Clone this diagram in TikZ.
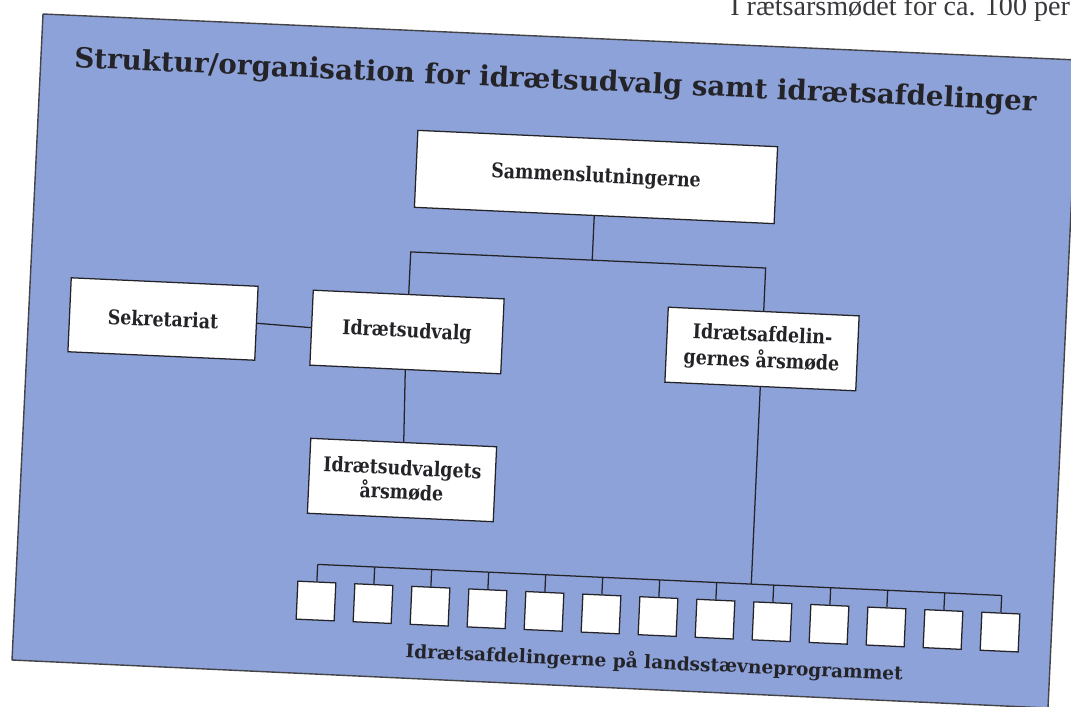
\documentclass[tikz,border=0pt]{standalone}
\usepackage{fontspec}
\setmainfont{DejaVu Serif}
\newfontfamily\boxfont{DejaVu Serif}[FakeStretch=0.86]
\newfontfamily\topfont{Liberation Serif}
\usetikzlibrary{calc}
\definecolor{panelblue}{RGB}{142,162,218}
\definecolor{ink}{RGB}{35,35,40}
\begin{document}
\begin{tikzpicture}[x=0.025cm,y=-0.025cm,
  box/.style={draw=ink, fill=white, line width=0.9pt, rotate=-2.6, align=center, text=ink,
    font=\boxfont\bfseries\fontsize{14.4}{16}\selectfont, inner sep=0pt},
  smallbox/.style={draw=ink, fill=white, line width=0.9pt, rotate=-2.6, minimum size=0.95cm, inner sep=0pt},
  conn/.style={draw=ink, line width=0.9pt}]
\useasboundingbox (0,0) rectangle (1071,706);
\clip (0,0) rectangle (1071,706);
\fill[white] (0,0) rectangle (1071,706);
% panel
\draw[fill=panelblue, draw=ink!85, line width=1pt, line join=round]
  (43,14) -- (1078,60) -- (1048,708) -- (12,660) -- cycle;
% top page text
\node[font=\topfont\fontsize{20}{22}\selectfont, text=ink!90, anchor=base west, inner sep=0pt] (note) at (730,15) {I rætsarsmødet for ca. 100 pers};
% title
\node[text=ink, font=\bfseries\fontsize{19.7}{22}\selectfont, rotate=-2.6, anchor=base, inner sep=0pt] (title) at (555,89)
  {Struktur/organisation for idrætsudvalg samt idrætsafdelinger};
% boxes
\node[box, minimum width=9cm, minimum height=1.925cm] (samm) at (596,177) {Sammenslutningerne};
\node[box, minimum width=4.675cm, minimum height=1.85cm] (sek) at (163,319) {Sekretariat};
\node[box, minimum width=4.775cm, minimum height=1.875cm] (udv) at (407,332) {Idrætsudvalg};
\node[box, minimum width=4.775cm, minimum height=1.875cm, font=\boxfont\bfseries\fontsize{14.4}{18.6}\selectfont] (afd) at (762,349) {Idrætsafdelin-\\gernes årsmøde};
\node[box, minimum width=4.65cm, minimum height=1.875cm, font=\boxfont\bfseries\fontsize{14.4}{17.2}\selectfont] (udvm) at (402,480) {Idrætsudvalgets\\årsmøde};
% connectors upper tree
\coordinate (jl) at ($(udv.north)+(2,-42)$);
\coordinate (jd) at ($(jl)+(100,4.54)$);
\coordinate (jr) at ($(jl)!(afd.north)!(jd)$);
\coordinate (jt) at ($(jl)!(samm.south)!(jd)$);
\draw[conn] (udv.north) -- (jl) -- (jr) -- (afd.north);
\draw[conn] (samm.south) -- (jt);
\draw[conn] (sek.east) -- (udv.west);
\draw[conn] (udv.south) -- (udvm.north);
% small boxes
\foreach \k in {0,...,12} {
  \node[smallbox] (s\k) at ({316+57*\k},{601+2.59*\k}) {};
  \coordinate (t\k) at ($(s\k.north)+(0.8,-17)$);
  \draw[conn] (s\k.north) -- (t\k);
}
\draw[conn] (t0) -- (t12);
\coordinate (tb) at ($(t0)!(afd.south)!(t12)$);
\draw[conn] (afd.south) -- (tb);
% bottom label
\node[text=ink, font=\bfseries\fontsize{13.2}{15}\selectfont, rotate=-2.6, anchor=base, inner sep=0pt] (lab) at (654,669)
  {Idrætsafdelingerne på landsstævneprogrammet};
\end{tikzpicture}
\end{document}
